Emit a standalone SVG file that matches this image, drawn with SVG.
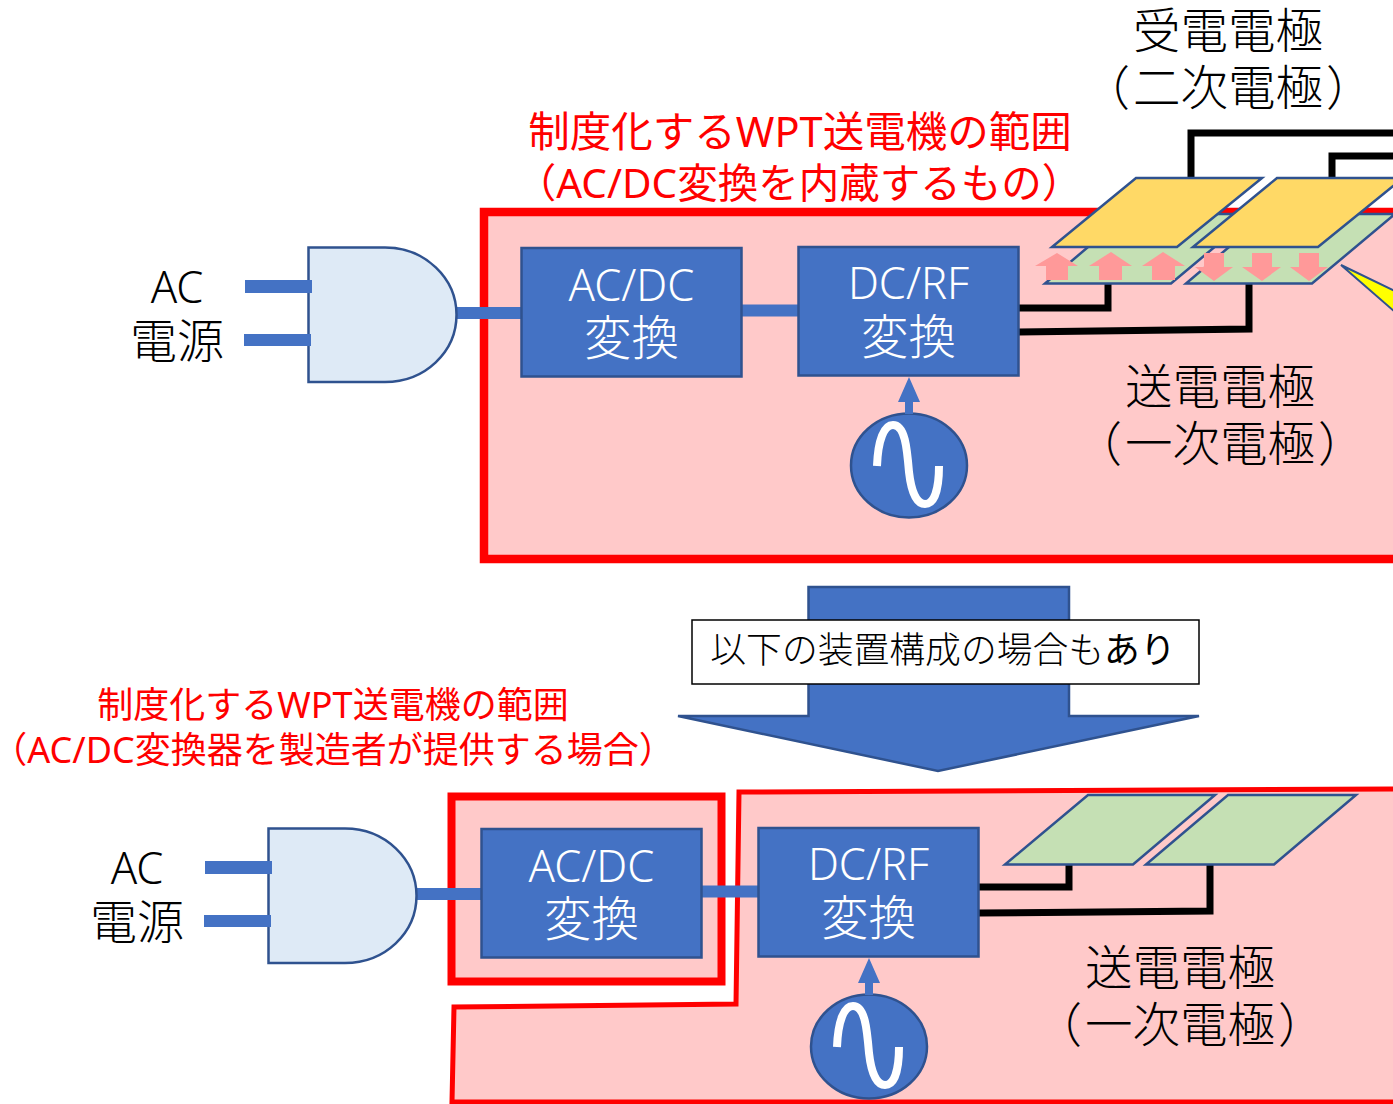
<svg xmlns="http://www.w3.org/2000/svg" width="1393" height="1104" viewBox="0 0 1393 1104">
<style>
text{font-family:"Noto Sans","Noto Sans CJK JP",sans-serif;text-anchor:middle;font-weight:300}
.k{fill:#000}.w{fill:#fff}.r{fill:#f00;font-weight:400}
.b{fill:#4472C4;stroke:#2F528F;stroke-width:2.5}
.f{fill:#4472C4}
.pl{fill:#DEEAF6;stroke:#2F528F;stroke-width:2.5}
.g{fill:#C5E0B4;stroke:#2F528F;stroke-width:2.5}
.y{fill:#FFD966;stroke:#2F528F;stroke-width:2.5}
.a{fill:#FF9999}
.wire{fill:none;stroke:#000;stroke-width:7}
.link{fill:none;stroke:#4472C4;stroke-width:12}
.sin{fill:none;stroke:#fff;stroke-width:8}
</style>
<defs>
<g id="plug">
<path class="pl" d="M308.500 247.500H385C425 247.500 456.500 278 456.500 314.800C456.500 352 425 382 385 382H308.500Z"/>
<rect class="f" x="245" y="280" width="67" height="13"/>
<rect class="f" x="244" y="334" width="67" height="12"/>
</g>
<g id="src">
<ellipse class="b" cx="909" cy="465.500" rx="58" ry="52"/>
<path class="sin" d="M877 466C878 440 884 425 893 425C905 425 907 448 909 472C911 490 916 504 925 504C934 504 939 490 939 466"/>
<path class="f" d="M909 377L920 402H913V414H905V402H898Z"/>
</g>
</defs>

<g id="top-frame"><path fill="#FFC9C9" stroke="#f00" stroke-width="8.500" d="M1400 212H484V559H1400"/></g>
<g id="bottom-frames">
<path fill="#FFC9C9" stroke="#f00" stroke-width="5" d="M1400 789L739 792L736 1004L454 1007L452 1102H1400"/>
<rect x="451.500" y="796.500" width="270" height="185" fill="#FFC9C9" stroke="#f00" stroke-width="8"/>
</g>

<g id="connectors">
<path class="link" d="M456 313H521"/>
<path class="link" d="M741 310.500H798"/>
<path class="link" d="M416 894H481"/>
<path class="link" d="M701 891.500H758"/>
<path class="wire" d="M1019 308H1108V284"/>
<path class="wire" d="M1019 332L1249 329V283"/>
<path class="wire" d="M1191 179V133H1393"/>
<path class="wire" d="M1332 179V156H1393"/>
<path class="wire" d="M979 887H1069V864"/>
<path class="wire" d="M979 913L1210 911V864"/>
</g>

<g id="upper-primary-electrodes">
<path class="g" d="M1045 283.500H1171L1254 214H1127Z"/>
<path class="g" d="M1186 283.500H1312L1395 214H1268Z"/>
</g>
<g id="upper-arrows">
<path class="a" d="M1057 253L1078 266H1068V280H1046V266H1035Z"/>
<path class="a" d="M1111 252L1132 266H1122V280H1099V266H1089Z"/>
<path class="a" d="M1163 252L1185 266H1175V280H1152V266H1142Z"/>
<path class="a" d="M1204 253H1224V267H1233L1214 281L1195 267H1204Z"/>
<path class="a" d="M1252 253H1272V267H1281L1262 281L1242 267H1252Z"/>
<path class="a" d="M1299 253H1319V267H1328L1309 281L1290 267H1299Z"/>
</g>
<g id="upper-secondary-electrodes">
<path class="y" d="M1052 247H1177L1262 178H1136Z"/>
<path class="y" d="M1193 247H1318L1403 178H1277Z"/>
</g>
<g id="callout"><path d="M1341 265L1395 291V312Z" fill="#FFFF00" stroke="#2F528F" stroke-width="2"/></g>

<g id="upper-plug"><use href="#plug"/></g>
<g id="upper-acdc"><rect class="b" x="521.500" y="248" width="220" height="128.500"/>
<text class="w" x="631.500" y="301" font-size="43.500">AC/DC</text><text class="w" x="631.500" y="355" font-size="47.500">変換</text></g>
<g id="upper-dcrf"><rect class="b" x="798.500" y="247" width="220" height="128.500"/>
<text class="w" x="908.500" y="299" font-size="43.500">DC/RF</text><text class="w" x="908.500" y="354" font-size="47.500">変換</text></g>
<g id="upper-source"><use href="#src"/></g>
<g id="upper-ac-label"><text class="k" x="177" y="303" font-size="43.500">AC</text><text class="k" x="177" y="358" font-size="47">電源</text></g>
<g id="upper-primary-label"><text class="k" x="1220" y="404" font-size="47.500">送電電極</text><text class="k" x="1220" y="461" font-size="47.500">（<tspan dx="3">一次電極</tspan><tspan dx="3">）</tspan></text></g>
<g id="secondary-label"><text class="k" x="1228" y="48" font-size="47.500">受電電極</text><text class="k" x="1228" y="105" font-size="47.500">（<tspan dx="3">二次電極</tspan><tspan dx="3">）</tspan></text></g>
<g id="upper-title"><text class="r" x="800" y="147" font-size="41.500">制度化するWPT送電機の範囲</text><text class="r" x="799" y="198" font-size="40.500">（AC/DC変換を内蔵するもの）</text></g>

<g id="big-arrow"><path class="b" d="M808.500 587H1069V716H1199L938 771L678 716H808.500Z"/></g>
<g id="note"><rect x="692" y="620" width="507" height="64" fill="#fff" stroke="#000" stroke-width="1.500"/>
<text class="k" x="943" y="663" font-size="35.800">以下の装置構成の場合も<tspan font-weight="400">あり</tspan></text></g>
<g id="lower-title"><text class="r" x="333" y="718" font-size="36">制度化するWPT送電機の範囲</text><text class="r" x="333" y="763" font-size="36">（AC/DC変換器を製造者が提供する場合）</text></g>

<g id="lower-primary-electrodes">
<path class="g" d="M1005 864.500H1133L1215 795H1088Z"/>
<path class="g" d="M1146 864.500H1274L1356 795H1228Z"/>
</g>
<g id="lower-plug"><use href="#plug" x="-40" y="581"/></g>
<g id="lower-acdc"><rect class="b" x="481.500" y="829" width="220" height="128.500"/>
<text class="w" x="591.500" y="882" font-size="43.500">AC/DC</text><text class="w" x="591.500" y="936" font-size="47.500">変換</text></g>
<g id="lower-dcrf"><rect class="b" x="758.500" y="828" width="220" height="128.500"/>
<text class="w" x="868.500" y="880" font-size="43.500">DC/RF</text><text class="w" x="868.500" y="935" font-size="47.500">変換</text></g>
<g id="lower-source"><use href="#src" x="-40" y="581"/></g>
<g id="lower-ac-label"><text class="k" x="137" y="884" font-size="43.500">AC</text><text class="k" x="137" y="939" font-size="47">電源</text></g>
<g id="lower-primary-label"><text class="k" x="1180" y="985" font-size="47.500">送電電極</text><text class="k" x="1180" y="1042" font-size="47.500">（<tspan dx="3">一次電極</tspan><tspan dx="3">）</tspan></text></g>
</svg>
